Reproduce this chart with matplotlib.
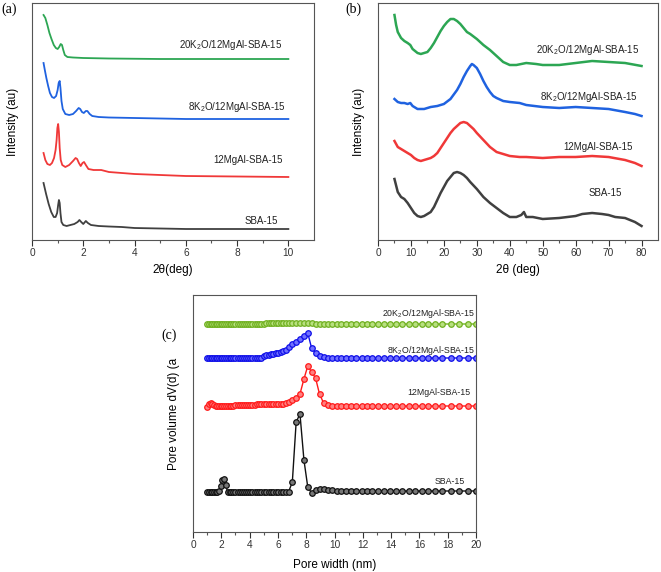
import matplotlib
matplotlib.use('Agg')
import matplotlib.pyplot as plt

plt.rcParams['font.family'] = ['Liberation Sans', 'DejaVu Sans']
plt.rcParams['mathtext.fontset'] = 'custom'
plt.rcParams['mathtext.rm'] = 'Liberation Sans'
plt.rcParams['mathtext.it'] = 'Liberation Sans:italic'

names = ['SBA-15', '12MgAl-SBA-15', '8K$_2$O/12MgAl-SBA-15', '20K$_2$O/12MgAl-SBA-15']

# ---- (a) small angle XRD (offset curves, arbitrary units) ----
a_x_sba = [0.45, 0.55, 0.65, 0.75, 0.85, 0.92, 0.98, 1.02, 1.05, 1.08, 1.11, 1.15, 1.22, 1.35, 1.5,
           1.65, 1.78, 1.85, 1.92, 2.0, 2.1, 2.18, 2.3, 2.6, 3.0, 3.5, 4.0, 5.0, 6.0, 8.0, 10.0]
a_y_sba = [57, 46, 36, 28, 23, 23, 27, 35, 40, 37, 27, 18, 15, 14, 15,
           16, 18, 20, 18, 16, 19, 17, 15, 14, 13.5, 13, 12, 11.5, 11, 11, 11]
a_x_mg = [0.45, 0.52, 0.6, 0.7, 0.78, 0.86, 0.92, 0.96, 0.99, 1.02, 1.05, 1.08, 1.12, 1.18, 1.3, 1.45, 1.6,
          1.7, 1.76, 1.83, 1.9, 1.97, 2.03, 2.1, 2.2, 2.4, 2.7, 3.0, 3.5, 4.0, 5.0, 6.0, 8.0, 10.0]
a_y_mg = [87, 80, 76, 75, 77, 82, 90, 100, 112, 116, 108, 92, 80, 75, 73, 75, 79,
          82, 81, 77, 74, 77, 78, 75, 71, 70, 70, 68, 67, 66, 65, 64, 63.5, 63]
a_x_k8 = [0.45, 0.5, 0.56, 0.63, 0.7, 0.78, 0.86, 0.94, 1.0, 1.04, 1.08, 1.11, 1.15, 1.2, 1.3, 1.45, 1.6,
          1.72, 1.82, 1.88, 1.95, 2.02, 2.1, 2.16, 2.25, 2.35, 2.6, 3.0, 4.0, 5.0, 6.0, 8.0, 10.0]
a_y_k8 = [177, 170, 162, 154, 147, 143, 142, 144, 150, 157, 159, 152, 139, 131, 126, 125, 126,
          129, 132, 131, 128, 127, 129, 129, 126, 124, 123, 122.5, 122, 121.5, 121, 121, 121]
a_x_k20 = [0.45, 0.52, 0.6, 0.68, 0.76, 0.85, 0.93, 1.0, 1.06, 1.12, 1.17, 1.22, 1.28, 1.38, 1.6,
           2.0, 3.0, 5.0, 10.0]
a_y_k20 = [225, 222, 215, 207, 201, 195, 192, 191, 193, 196, 195, 190, 185, 183, 182.5,
           182, 181.5, 181, 181]

# ---- (b) wide angle XRD ----
b_x_sba = [5, 6, 7, 8, 9, 10, 11, 12, 13, 14, 15, 16, 17, 18, 19, 20, 21, 22, 23, 24, 25, 26, 27, 28,
           30, 32, 34, 36, 38, 40, 42, 43.5, 44.3, 45, 47, 50, 55, 60, 62, 65, 68, 70, 72, 75, 78, 80]
b_y_sba = [61, 48, 43, 41, 37, 32, 27, 24, 23, 24, 26, 28, 33, 40, 47, 53, 59, 63, 67, 68, 67, 65, 62, 58,
           51, 43, 37, 32, 27, 23, 23, 25, 28, 23, 23, 21, 22, 24, 26, 27, 26, 25, 23, 22, 18, 14]
b_x_mg = [5, 6, 7, 8, 9, 10, 11, 12, 13, 14, 15, 16, 17, 18, 19, 20, 21, 22, 23, 24, 25, 26, 27, 28, 29,
          30, 32, 34, 36, 38, 40, 43, 45, 50, 55, 60, 65, 70, 75, 78, 80]
b_y_mg = [99, 93, 91, 89, 87, 85, 82, 80, 79, 80, 81, 82, 84, 87, 92, 97, 102, 107, 111, 114, 117, 118,
          117, 114, 111, 107, 100, 93, 88, 86, 84, 83, 83, 82, 83, 83, 84, 83, 80, 77, 74]
b_x_k8 = [5, 6, 7, 8, 9, 9.8, 10.5, 12, 14, 16, 18, 20, 22, 24, 25, 26, 27, 28, 28.5, 29, 30, 31, 32,
          33, 34, 35, 36, 38, 40, 43, 45, 50, 55, 60, 65, 70, 75, 78, 80]
b_y_k8 = [141, 138, 137, 137, 136, 137, 134, 131, 131, 133, 134, 136, 141, 150, 156, 163, 169, 174,
          176, 175, 172, 166, 159, 153, 148, 144, 142, 139, 138, 137, 135, 133, 132, 133, 132, 131,
          128, 126, 124]
b_x_k20 = [5, 5.5, 6, 7, 8, 9, 9.8, 10.5, 12, 13, 14, 15, 16, 17, 18, 19, 20, 21, 22, 23, 24, 25, 26,
           27, 28, 30, 32, 34, 36, 38, 40, 42, 45, 48, 50, 55, 60, 65, 70, 75, 80]
b_y_k20 = [225, 215, 208, 202, 199, 197, 195, 191, 187, 186, 187, 188, 192, 197, 203, 209, 214, 218,
           221, 221, 219, 216, 212, 208, 206, 201, 195, 190, 184, 178, 175, 175, 177, 176, 175, 175,
           177, 179, 178, 177, 174]

# ---- (c) pore size distribution (offset curves) ----
pore_w = [1.0, 1.12, 1.24, 1.36, 1.48, 1.6, 1.72, 1.84, 1.96, 2.08, 2.2, 2.32, 2.44, 2.58, 2.72, 2.86,
          3.0, 3.15, 3.3, 3.45, 3.6, 3.75, 3.9, 4.05, 4.2, 4.36, 4.52, 4.68, 4.84, 5.0, 5.17, 5.34,
          5.51, 5.68, 5.85, 6.03, 6.21, 6.39, 6.57, 6.75, 7.02, 7.29, 7.56, 7.84, 8.11, 8.38, 8.66,
          8.94, 9.23, 9.53, 9.84, 10.16, 10.49, 10.83, 11.18, 11.54, 11.91, 12.29, 12.68, 13.08,
          13.49, 13.91, 14.34, 14.78, 15.23, 15.69, 16.16, 16.64, 17.13, 17.63, 18.2, 18.8, 19.4, 20.0]
c_sba = ([40] * 7 + [41, 46, 52, 53, 47, 40] + [40] * 27 +
         [50, 110, 118, 72, 45, 39, 42, 43, 43, 42, 42] + [41] * 23)
c_mg = ([125, 128, 129, 128, 127, 126] + [126] * 10 + [127] * 10 + [128] * 12 +
        [129, 130, 132, 134, 138, 153, 166, 160, 154, 138, 129, 127] + [126] * 24)
c_k8 = ([174] * 29 + [176, 177, 177, 178, 178, 179, 179, 180, 181, 182, 185, 188, 190, 193, 196, 199,
                      184, 179, 176, 175] + [174] * 25)
c_k20 = [208] * 30 + [209] * 16 + [208] * 28

fig = plt.figure(figsize=(6.61, 5.72), dpi=100)
axa = fig.add_axes([32 / 661, 1 - 240 / 572, 282 / 661, 237 / 572])
axb = fig.add_axes([378 / 661, 1 - 240 / 572, 280 / 661, 237 / 572])
axc = fig.add_axes([193 / 661, 1 - 532 / 572, 283 / 661, 237 / 572])

def style(ax):
	for s in ax.spines.values():
		s.set_color('#555555')
		s.set_linewidth(0.8)
	ax.set_yticks([])
	ax.tick_params(axis='x', which='major', direction='out', length=4, width=0.8,
				   labelsize=7.3, colors='#333333', pad=2)
	ax.tick_params(axis='x', which='minor', direction='out', length=2.5, width=0.8, colors='#555555')

# (a)
a_cols = ['#404040', '#f03838', '#1f62e0', '#2ca653']
for xs, ys, c in zip([a_x_sba, a_x_mg, a_x_k8, a_x_k20], [a_y_sba, a_y_mg, a_y_k8, a_y_k20], a_cols):
	axa.plot(xs, ys, color=c, lw=1.3)
axa.set_xlim(0, 11)
axa.set_ylim(0, 237)
axa.set_xticks(range(0, 11, 2))
axa.set_xticks(range(1, 11, 2), minor=True)
style(axa)
for t, xx, yy in zip(names, [9.6, 9.77, 9.9, 9.75], [19, 80, 133, 195]):
	axa.text(xx, yy, t, ha='right', va='center', fontsize=7, color='#222222')
axa.set_xlabel('2θ(deg)', fontsize=8.5)
axa.xaxis.set_label_coords(0.5, -0.1)
axa.set_ylabel('Intensity (au)', fontsize=8.5)
axa.yaxis.set_label_coords(-0.045, 0.5)

# (b)
for xs, ys, c in zip([b_x_sba, b_x_mg, b_x_k8, b_x_k20], [b_y_sba, b_y_mg, b_y_k8, b_y_k20], a_cols):
	axb.plot(xs, ys, color=c, lw=1.8)
axb.set_xlim(0, 85)
axb.set_ylim(0, 237)
axb.set_xticks(range(0, 81, 10))
axb.set_xticks(range(5, 85, 10), minor=True)
style(axb)
for t, xx, yy in zip(names, [74, 77.3, 78.8, 79.4], [47, 93, 143, 190]):
	axb.text(xx, yy, t, ha='right', va='center', fontsize=7, color='#222222')
axb.set_xlabel('2θ (deg)', fontsize=8.5)
axb.xaxis.set_label_coords(0.5, -0.1)
axb.set_ylabel('Intensity (au)', fontsize=8.5)
axb.yaxis.set_label_coords(-0.048, 0.5)

# (c)
c_cols = ['#111111', '#ff1a1a', '#1010e8', '#70b020']
c_face = ['#777777', '#ff8080', '#7070ff', '#b8e080']
for ys, c, fc in zip([c_sba, c_mg, c_k8, c_k20], c_cols, c_face):
	axc.plot(pore_w, ys, color=c, lw=1.0, marker='o', ms=4.0, mfc=fc, mec=c, mew=0.9)
axc.set_xlim(0, 20)
axc.set_ylim(0, 237)
axc.set_xticks(range(0, 21, 2))
axc.set_xticks(range(1, 20, 2), minor=True)
style(axc)
for t, xx, yy in zip(names, [19.2, 19.6, 19.95, 19.95], [51, 140, 182, 219]):
	axc.text(xx, yy, t, ha='right', va='center', fontsize=6.3, color='#222222')
axc.set_xlabel('Pore width (nm)', fontsize=8.5)
axc.xaxis.set_label_coords(0.5, -0.115)
axc.set_ylabel('Pore volume dV(d) (a', fontsize=8.5)
axc.yaxis.set_label_coords(-0.045, 0.5)

# panel letters
fig.text(9 / 661, 1 - 9 / 572, '(a)', family=['Liberation Serif', 'DejaVu Serif'], fontsize=10, ha='center', va='center')
fig.text(353 / 661, 1 - 9 / 572, '(b)', family=['Liberation Serif', 'DejaVu Serif'], fontsize=10, ha='center', va='center')
fig.text(169 / 661, 1 - 335 / 572, '(c)', family=['Liberation Serif', 'DejaVu Serif'], fontsize=10, ha='center', va='center')

fig.savefig('out.png', dpi=100)
